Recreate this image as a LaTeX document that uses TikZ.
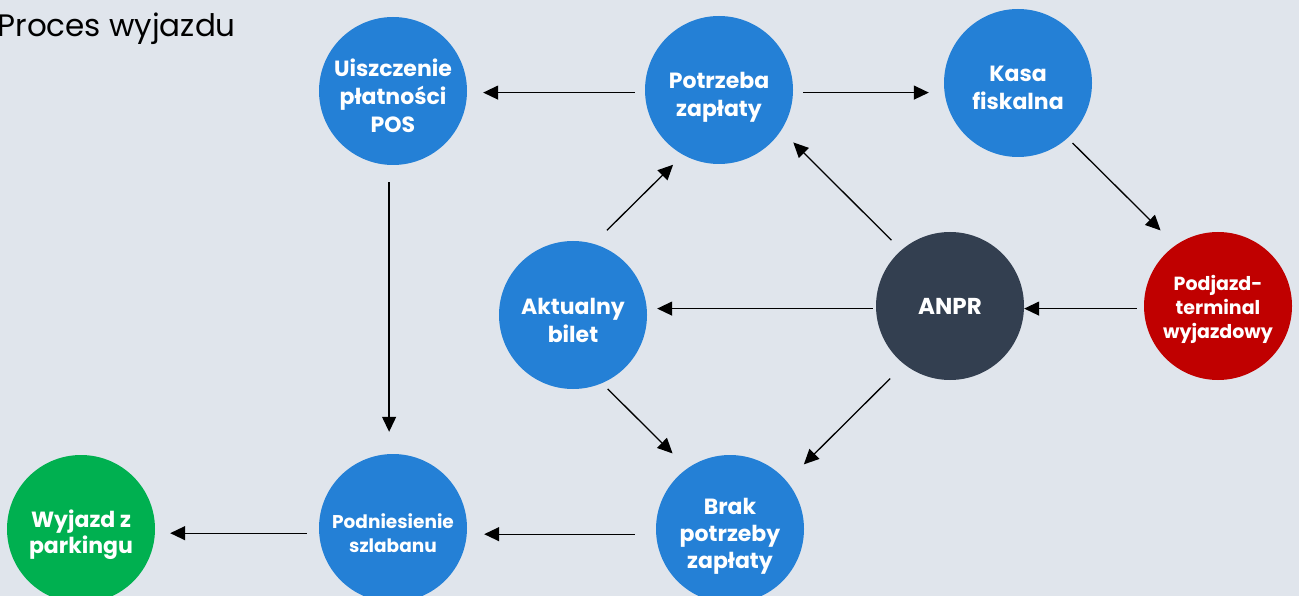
\documentclass[tikz,border=0pt]{standalone}
\usepackage{fontspec}
\setmainfont{Poppins}
\usepackage{tikz}
\usetikzlibrary{arrows.meta}
\definecolor{bgcol}{HTML}{E0E5EC}
\definecolor{nodeblue}{HTML}{2480D6}
\definecolor{nodedark}{HTML}{333F50}
\definecolor{nodered}{HTML}{C00000}
\definecolor{nodegreen}{HTML}{00B050}
\newcommand{\ctext}[2][7pt]{\raisebox{-#1}[\height][\depth]{\begin{tabular}{@{}c@{}}#2\end{tabular}}}

\begin{document}
\begin{tikzpicture}[x=1pt, y=-1pt,
        circ/.style={circle, fill=nodeblue, minimum size=148pt, inner sep=0pt,
            text=white, font=\bfseries\fontsize{22}{28}\selectfont},
        conn/.style={-{Triangle[length=15pt, width=14pt]}, line width=1.3pt,
            shorten <=10pt, shorten >=16pt}]
        \fill[bgcol] (0,0) rectangle (1299,596);
        \useasboundingbox (0,0) rectangle (1299,596);
        \node[anchor=base west, font=\fontsize{31}{36}\selectfont] (0) at (-6,37) {Proces wyjazdu};

        \node[circ] (1) at (393,91) {\ctext[8pt]{Uiszczenie\\płatności\\POS}};
        \node[circ] (2) at (719,90) {\ctext{Potrzeba\\zapłaty}};
        \node[circ] (3) at (1018,83) {\ctext{Kasa\\fiskalna}};
        \node[circ, fill=nodered, font=\bfseries\fontsize{19}{24}\selectfont] (4) at (1218,306) {\ctext[3.5pt]{Podjazd-\\terminal\\wyjazdowy}};
        \node[circ, fill=nodedark, font=\bfseries\fontsize{23}{28}\selectfont] (5) at (950,306) {ANPR};
        \node[circ] (6) at (573,315) {\ctext[7.5pt]{Aktualny\\bilet}};
        \node[circ, font=\bfseries\fontsize{22}{27}\selectfont] (7) at (730,529) {\ctext[7pt]{Brak\\potrzeby\\zapłaty}};
        \node[circ, font=\bfseries\fontsize{18.5}{24}\selectfont] (8) at (393,528) {\ctext[7.5pt]{Podniesienie\\szlabanu}};
        \node[circ, fill=nodegreen, font=\bfseries\fontsize{22}{26}\selectfont] (9) at (81,529) {\ctext[6.5pt]{Wyjazd z\\parkingu}};

        \draw[conn] (2.182) to (1.east |- 2.182);
        \draw[conn, shorten >=15pt] (2.358) to (3.west |- 2.358);
        \draw[conn, shorten <=7pt, shorten >=21pt] (3.312) to (4.125);
        \draw[conn, shorten <=7pt, shorten >=0pt] (4.182) to (5.east |- 4.182);
        \draw[conn, shorten <=3pt, shorten >=10pt] (5.182) to (6.east |- 5.182);
        \draw[conn, shorten <=19pt, shorten >=14pt] (6.74) to (2.241);
        \draw[conn, shorten <=14pt, shorten >=17pt] (5.131) to (2.327);
        \draw[conn, shorten <=8pt, shorten >=21pt] (6.293) to (7.125);
        \draw[conn, shorten <=20pt, shorten >=24pt] (5.232) to (7.40);
        \draw[conn, shorten <=21pt, shorten >=17pt] (7.184) to (8.east |- 7.184);
        \draw[conn, shorten <=12pt, shorten >=15pt] (8.184) to (9.east |- 8.184);
        \draw[conn, shorten <=17pt, shorten >=22pt] (1.267) to (8.north -| 1.267);
    \end{tikzpicture}
\end{document}
